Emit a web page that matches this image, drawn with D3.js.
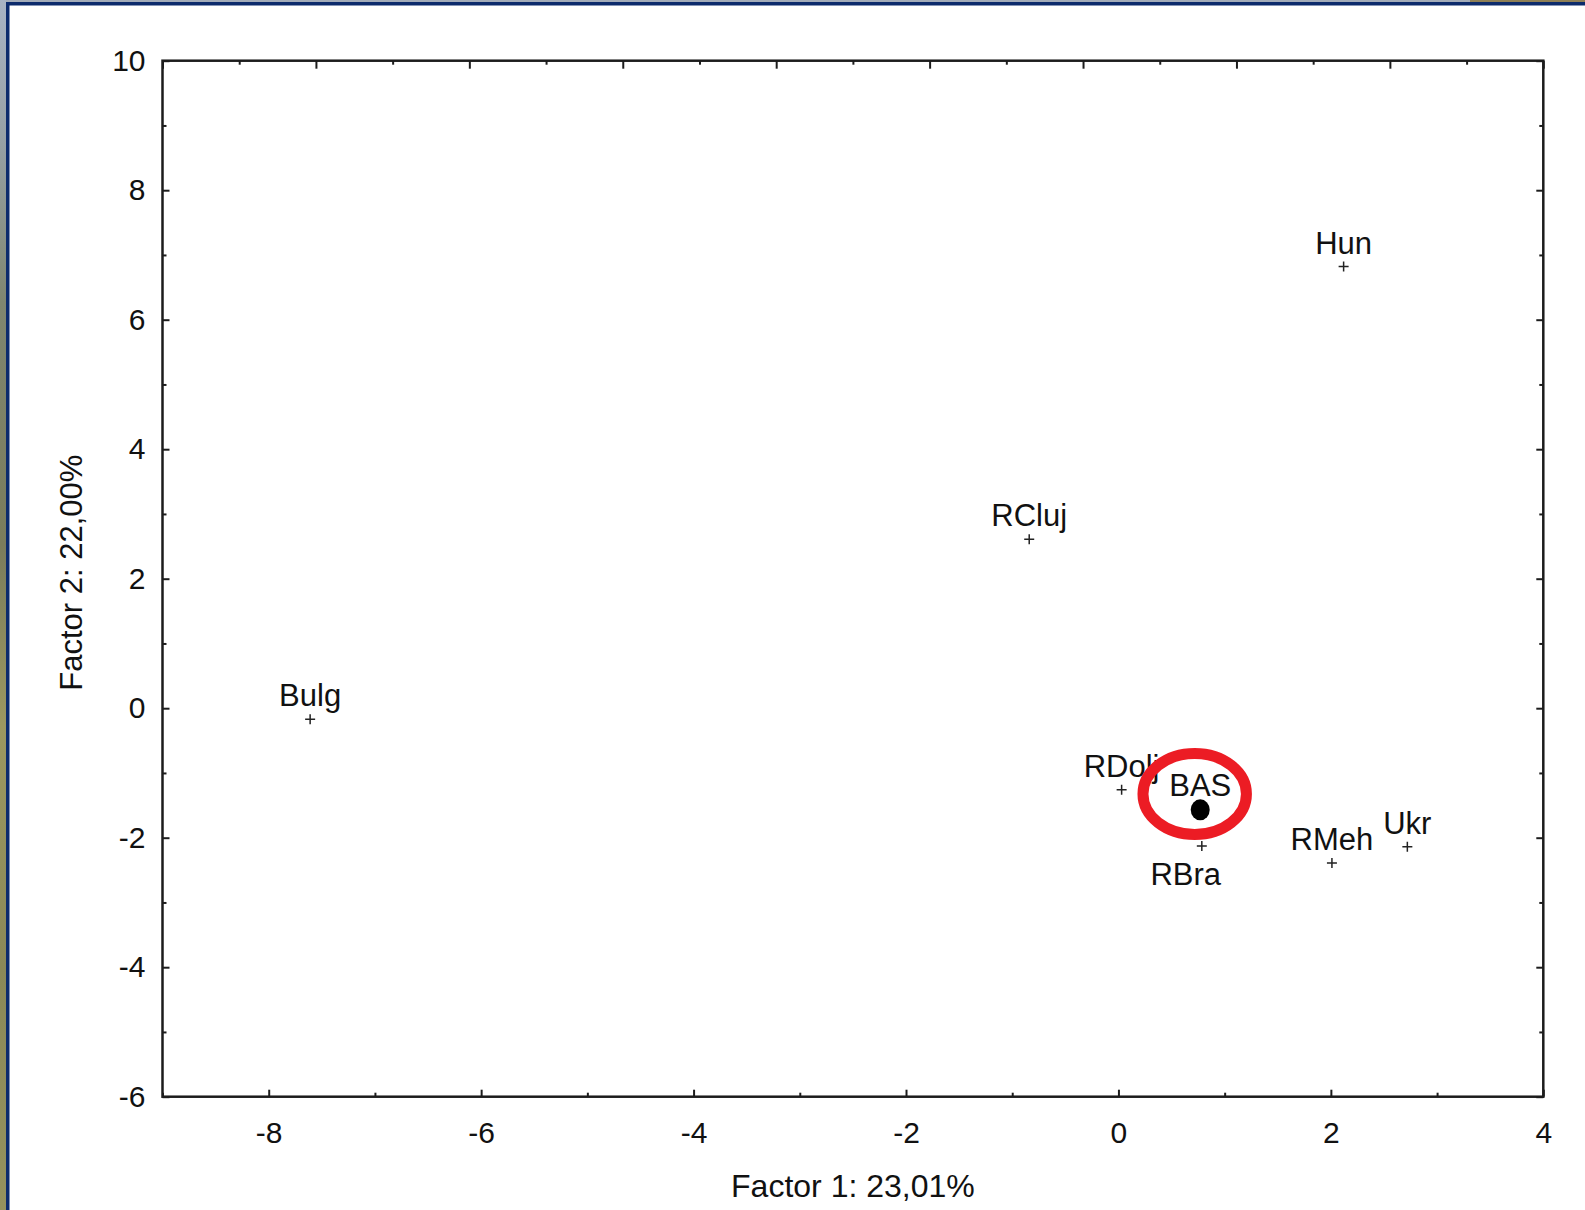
<!DOCTYPE html>
<html>
<head>
<meta charset="utf-8">
<script src="https://cdn.jsdelivr.net/npm/d3@7"></script>
<style>
  html, body { margin: 0; padding: 0; background: #ffffff; }
  svg { display: block; }
  text { font-family: "Liberation Sans", Arial, Helvetica, sans-serif; fill: #111; }
</style>
</head>
<body>
<svg id="chart" width="1585" height="1210"></svg>
<script>
// ---- data ----
const labels = ["Bulg", "RCluj", "Hun", "RDolj", "RBra", "RMeh", "Ukr"];
const factor1 = [-7.61, -0.84, 2.12, 0.03, 0.785, 2.01, 2.72];
const factor2 = [-0.17, 2.61, 6.82, -1.26, -2.13, -2.39, -2.14];
const labelPlacement = ["above", "above", "above", "above", "below", "above", "above"];

const highlightLabel = "BAS";
const highlightX = 0.77;
const highlightY = -1.57;
const ringCenter = [0.718, -1.325];
const ringRadii = [0.487, 0.625];

const xDomain = [-9, 4];
const yDomain = [-6, 10];
const xTickLabels = [-8, -6, -4, -2, 0, 2, 4];
const yTickLabels = [-6, -4, -2, 0, 2, 4, 6, 8, 10];
const xMinorTicks = [-9, -7, -5, -3, -1, 1, 3];
const yMinorTicks = [-5, -3, -1, 1, 3, 5, 7, 9];
const topTicks = d3.range(0, 19);
const xTitle = "Factor 1: 23,01%";
const yTitle = "Factor 2: 22,00%";

// ---- layout ----
const W = 1585, H = 1210;
const L = 162.5, R = 1543.3, T = 60.7, B = 1096.7;
const svg = d3.select("#chart");
const fmt = d => String(d);

// background decorations (frame)
const defs = svg.append("defs");
const grad = defs.append("linearGradient").attr("id", "leftStrip")
  .attr("x1", 0).attr("y1", 0).attr("x2", 0).attr("y2", 1);
[["0", "#a9b4c4"], ["0.12", "#96a0a4"], ["0.25", "#7f8670"], ["0.45", "#7a7c5c"],
 ["0.6", "#9c9860"], ["0.8", "#8a8858"], ["1", "#95925e"]].forEach(s =>
  grad.append("stop").attr("offset", s[0]).attr("stop-color", s[1]));

svg.append("rect").attr("x", 0).attr("y", 0).attr("width", W).attr("height", H).attr("fill", "#ffffff");
svg.append("rect").attr("x", 0).attr("y", 0).attr("width", W).attr("height", 2.5).attr("fill", "#a3acb9");
svg.append("rect").attr("x", 1470).attr("y", 0).attr("width", 115).attr("height", 2.5).attr("fill", "#8e7f55");
svg.append("rect").attr("x", 0).attr("y", 0).attr("width", 6).attr("height", H).attr("fill", "url(#leftStrip)");
svg.append("rect").attr("x", 6).attr("y", 2).attr("width", W - 6).attr("height", 3.5).attr("fill", "#0c2b6c");
svg.append("rect").attr("x", 6).attr("y", 2).attr("width", 3.5).attr("height", H - 2).attr("fill", "#0c2b6c");

// scales
const x = d3.scaleLinear().domain(xDomain).range([L, R]);
const y = d3.scaleLinear().domain(yDomain).range([B, T]);
const xTop = d3.scaleLinear().domain([0, 18]).range([L, R]);

const axisColor = "#1c1c1c";
function styleAxis(g) {
  g.select(".domain").remove();
  g.selectAll(".tick line").attr("stroke", axisColor).attr("stroke-width", 2);
  g.selectAll(".tick text").attr("font-size", 30).attr("fill", "#111")
    .style("font-family", '"Liberation Sans", Arial, sans-serif');
}

// bottom axis (major + minor)
svg.append("g").attr("transform", `translate(0,${B})`)
  .call(d3.axisBottom(x).tickValues(xTickLabels).tickSize(-7).tickPadding(25).tickFormat(fmt))
  .call(styleAxis);
svg.append("g").attr("transform", `translate(0,${B})`)
  .call(d3.axisBottom(x).tickValues(xMinorTicks).tickSize(-4).tickFormat(""))
  .call(styleAxis);

// left axis
svg.append("g").attr("transform", `translate(${L},0)`)
  .call(d3.axisLeft(y).tickValues(yTickLabels).tickSize(-7).tickPadding(17).tickFormat(fmt))
  .call(styleAxis);
svg.append("g").attr("transform", `translate(${L},0)`)
  .call(d3.axisLeft(y).tickValues(yMinorTicks).tickSize(-4).tickFormat(""))
  .call(styleAxis);

// right axis
svg.append("g").attr("transform", `translate(${R},0)`)
  .call(d3.axisRight(y).tickValues(yTickLabels).tickSize(-7).tickFormat(""))
  .call(styleAxis);
svg.append("g").attr("transform", `translate(${R},0)`)
  .call(d3.axisRight(y).tickValues(yMinorTicks).tickSize(-4).tickFormat(""))
  .call(styleAxis);

// top axis (its own subdivision)
svg.append("g").attr("transform", `translate(0,${T})`)
  .call(d3.axisTop(xTop).tickValues(topTicks.filter(d => d % 2 === 0)).tickSize(-8).tickFormat(""))
  .call(styleAxis);
svg.append("g").attr("transform", `translate(0,${T})`)
  .call(d3.axisTop(xTop).tickValues(topTicks.filter(d => d % 2 === 1)).tickSize(-4).tickFormat(""))
  .call(styleAxis);

// plot frame
svg.append("rect").attr("x", L).attr("y", T).attr("width", R - L).attr("height", B - T)
  .attr("fill", "none").attr("stroke", axisColor).attr("stroke-width", 2.5);

// axis titles
svg.append("text").attr("x", (L + R) / 2).attr("y", 1196.5).attr("text-anchor", "middle")
  .attr("font-size", 32).text(xTitle);
svg.append("text").attr("transform", `translate(82,${(T + B) / 2 - 6}) rotate(-90)`)
  .attr("text-anchor", "middle").attr("font-size", 31).text(yTitle);

// points
const pts = labels.map((l, i) => ({ label: l, x: factor1[i], y: factor2[i], pos: labelPlacement[i] }));
const g = svg.append("g");
g.selectAll("path.pt").data(pts).enter().append("path")
  .attr("class", "pt")
  .attr("transform", d => `translate(${x(d.x)},${y(d.y)})`)
  .attr("d", "M-5,0H5M0,-5V5")
  .attr("stroke", "#222").attr("stroke-width", 1.5).attr("fill", "none");

g.selectAll("text.lbl").data(pts).enter().append("text")
  .attr("class", "lbl")
  .attr("x", d => x(d.x) + (d.pos === "below" ? -16 : 0))
  .attr("y", d => y(d.y) + (d.pos === "below" ? 39 : -13))
  .attr("text-anchor", "middle")
  .attr("font-size", 31)
  .text(d => d.label);

// highlighted point
g.append("ellipse").attr("cx", x(highlightX)).attr("cy", y(highlightY))
  .attr("rx", 9.5).attr("ry", 10.5).attr("fill", "#000");
g.append("text").attr("x", x(highlightX)).attr("y", y(highlightY) - 14)
  .attr("text-anchor", "middle").attr("font-size", 31).text(highlightLabel);

// red ring
g.append("ellipse")
  .attr("cx", x(ringCenter[0])).attr("cy", y(ringCenter[1]))
  .attr("rx", x(ringCenter[0] + ringRadii[0]) - x(ringCenter[0]))
  .attr("ry", y(ringCenter[1]) - y(ringCenter[1] + ringRadii[1]))
  .attr("fill", "none").attr("stroke", "#ec1c24").attr("stroke-width", 11);
</script>
</body>
</html>
